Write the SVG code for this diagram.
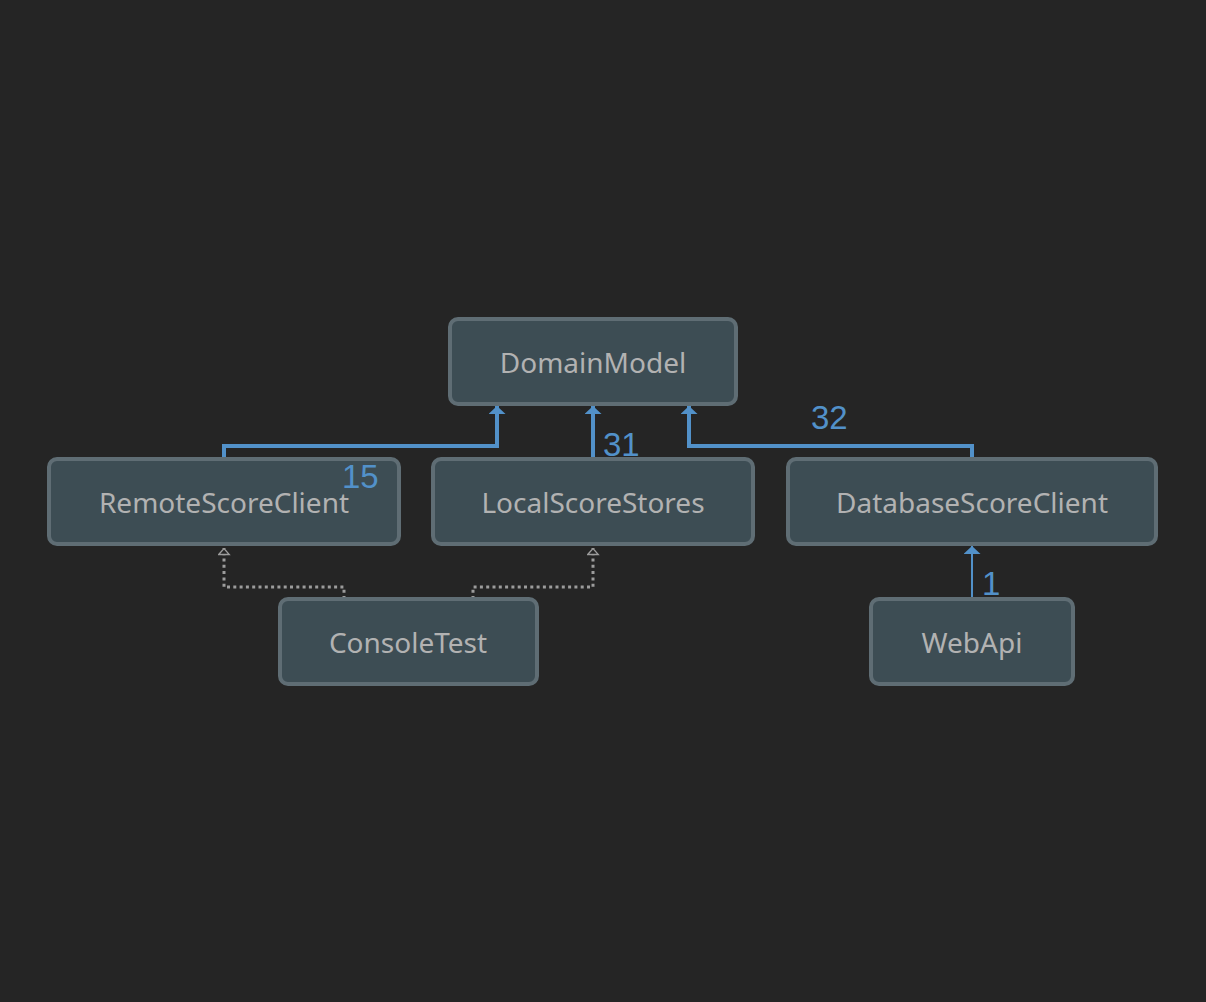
<svg xmlns="http://www.w3.org/2000/svg" width="1206" height="1002" viewBox="0 0 1206 1002">
  <style>
    .node rect { fill: #3d4d54; stroke: #5f6d74; stroke-width: 4; }
    .node text { font-family: "Noto Sans", "Open Sans", sans-serif; font-size: 28px; fill: #b2b2b2; text-anchor: middle; }
    .dep { fill: none; stroke: #5291c9; stroke-width: 4; }
    .dep-thin { fill: none; stroke: #5291c9; stroke-width: 2; }
    .ref { fill: none; stroke: #9c9c9c; stroke-width: 3; stroke-dasharray: 3 3.3; }
    .count { font-family: "Liberation Sans", Arial, sans-serif; font-size: 33px; fill: #5291c9; }
  </style>
  <defs>
    <!-- solid dependency head: short and wide -->
    <marker id="arrow" markerUnits="userSpaceOnUse" viewBox="0 0 8 17" refX="8" refY="8.5" markerWidth="8" markerHeight="17" orient="auto">
      <path d="M0,0 L8,8.5 L0,17 Z" fill="#5291c9"/>
    </marker>
    <!-- open head for project references -->
    <marker id="hollow" markerUnits="userSpaceOnUse" viewBox="0 0 8 13" refX="7.5" refY="6.5" markerWidth="8" markerHeight="13" orient="auto">
      <path d="M1,1.2 L7,6.5 L1,11.8 Z" fill="#252525" stroke="#9c9c9c" stroke-width="1.3"/>
    </marker>
  </defs>
  <rect width="1206" height="1002" fill="#252525"/>

  <g id="connectors">
    <path class="dep" d="M224,459 V446 H497 V406" marker-end="url(#arrow)"/>
    <path class="dep" d="M593,459 V406" marker-end="url(#arrow)"/>
    <path class="dep" d="M972,459 V446 H689 V406" marker-end="url(#arrow)"/>
    <path class="dep-thin" d="M972,599 V546" marker-end="url(#arrow)"/>
    <path class="ref" d="M344,599 V587 H224 V548" marker-end="url(#hollow)"/>
    <path class="ref" d="M473,599 V587 H593 V548" marker-end="url(#hollow)"/>
  </g>

  <g id="DomainModel" class="node">
    <rect x="450" y="319" width="286" height="85" rx="8"/>
    <text x="593" y="373">DomainModel</text>
  </g>
  <g id="RemoteScoreClient" class="node">
    <rect x="49" y="459" width="350" height="85" rx="8"/>
    <text x="224" y="513">RemoteScoreClient</text>
  </g>
  <g id="LocalScoreStores" class="node">
    <rect x="433" y="459" width="320" height="85" rx="8"/>
    <text x="593" y="513">LocalScoreStores</text>
  </g>
  <g id="DatabaseScoreClient" class="node">
    <rect x="788" y="459" width="368" height="85" rx="8"/>
    <text x="972" y="513">DatabaseScoreClient</text>
  </g>
  <g id="ConsoleTest" class="node">
    <rect x="280" y="599" width="257" height="85" rx="8"/>
    <text x="408" y="653">ConsoleTest</text>
  </g>
  <g id="WebApi" class="node">
    <rect x="871" y="599" width="202" height="85" rx="8"/>
    <text x="972" y="653">WebApi</text>
  </g>

  <g id="counts">
    <text class="count" x="342" y="488">15</text>
    <text class="count" x="603" y="456">31</text>
    <text class="count" x="811" y="429">32</text>
    <text class="count" x="982" y="595">1</text>
  </g>
</svg>
